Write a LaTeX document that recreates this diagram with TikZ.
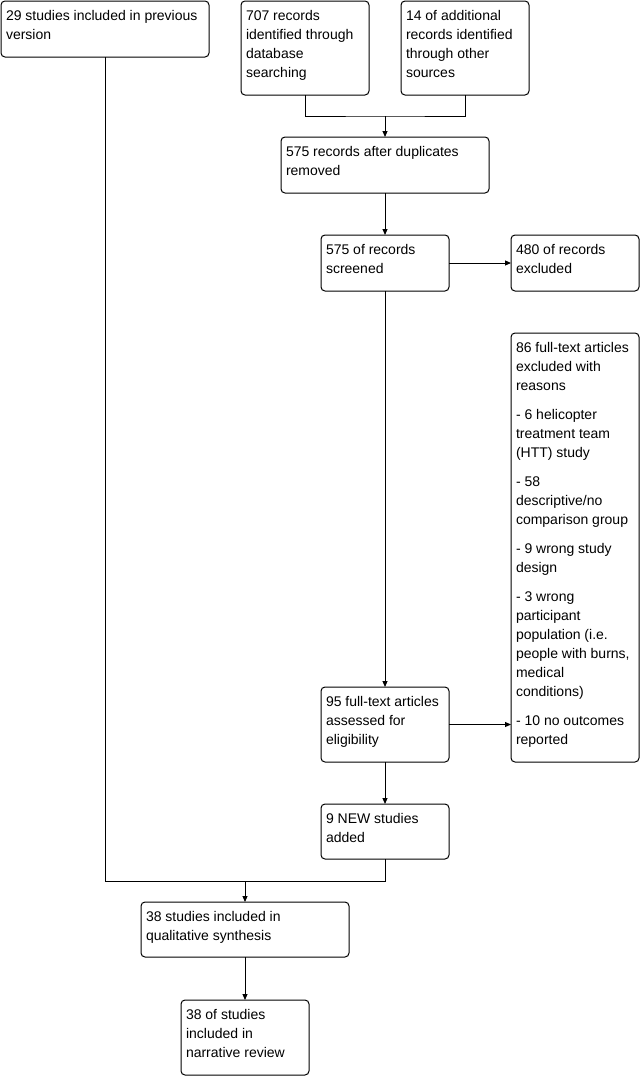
\documentclass[tikz,border=0pt]{standalone}
\usepackage{fontspec}
\setmainfont{Liberation Sans}
\usepackage{tikz}
\usetikzlibrary{arrows.meta}
\newcommand{\boxtext}[3]{\parbox[t][#2][t]{#1}{\strut#3}}
\tikzset{
    stage/.style={draw, line width=1pt, rounded corners=4pt, anchor=north west,
        inner xsep=5pt, inner ysep=6pt, outer sep=0pt, font=\fontsize{14}{19}\selectfont},
    link/.style={line width=1pt}
}

\begin{document}
\begin{tikzpicture}[x=1pt, y=-1pt, >={Triangle[length=6pt, width=5pt]}]
    \useasboundingbox (0,0) rectangle (642,1076);

    \node[stage] (prev) at (1,1) {\boxtext{198pt}{44pt}{29 studies included in previous\\version}};
    \node[stage] (db) at (241,1) {\boxtext{118pt}{82pt}{707 records\\identified through\\database\\searching}};
    \node[stage] (other) at (401,1) {\boxtext{118pt}{82pt}{14 of additional\\records identified\\through other\\sources}};
    \node[stage] (dedup) at (281,137) {\boxtext{198pt}{44pt}{575 records after duplicates\\removed}};
    \node[stage] (screen) at (321,235) {\boxtext{118pt}{44pt}{575 of records\\screened}};
    \node[stage] (excl) at (511,235) {\boxtext{118pt}{44pt}{480 of records\\excluded}};
    \node[stage] (reasons) at (511,333) {\boxtext{118pt}{417pt}{86 full-text articles\\excluded with\\reasons\\[10pt]- 6 helicopter\\treatment team\\(HTT) study\\[10pt]- 58\\descriptive/no\\comparison group\\[10pt]- 9 wrong study\\design\\[10pt]- 3 wrong\\participant\\population (i.e.\\people with burns,\\medical\\conditions)\\[10pt]- 10 no outcomes\\reported}};
    \node[stage] (full) at (321,687) {\boxtext{118pt}{63pt}{95 full-text articles\\assessed for\\eligibility}};
    \node[stage] (new) at (321,804) {\boxtext{118pt}{43pt}{9 NEW studies\\added}};
    \node[stage] (qual) at (141,902) {\boxtext{198pt}{43pt}{38 studies included in\\qualitative synthesis}};
    \node[stage] (narr) at (181,1000) {\boxtext{118pt}{63pt}{38 of studies\\included in\\narrative review}};

    \coordinate (merge1) at (385,116);
    \coordinate (merge2) at (245,881);

    \draw[link] (db.south) |- (merge1) -| (other.south);
    \draw[link, ->] (merge1) -- (dedup.north);
    \draw[link, ->] (dedup) -- (screen);
    \draw[link, ->] (screen) -- (excl);
    \draw[link, ->] (screen) -- (full);
    \draw[link, ->] (full.east) -- (full.east -| reasons.west);
    \draw[link, ->] (full) -- (new);
    \draw[link] (prev.south) |- (merge2) -| (new.south);
    \draw[link, ->] (merge2) -- (qual.north);
    \draw[link, ->] (qual) -- (narr);
\end{tikzpicture}
\end{document}
